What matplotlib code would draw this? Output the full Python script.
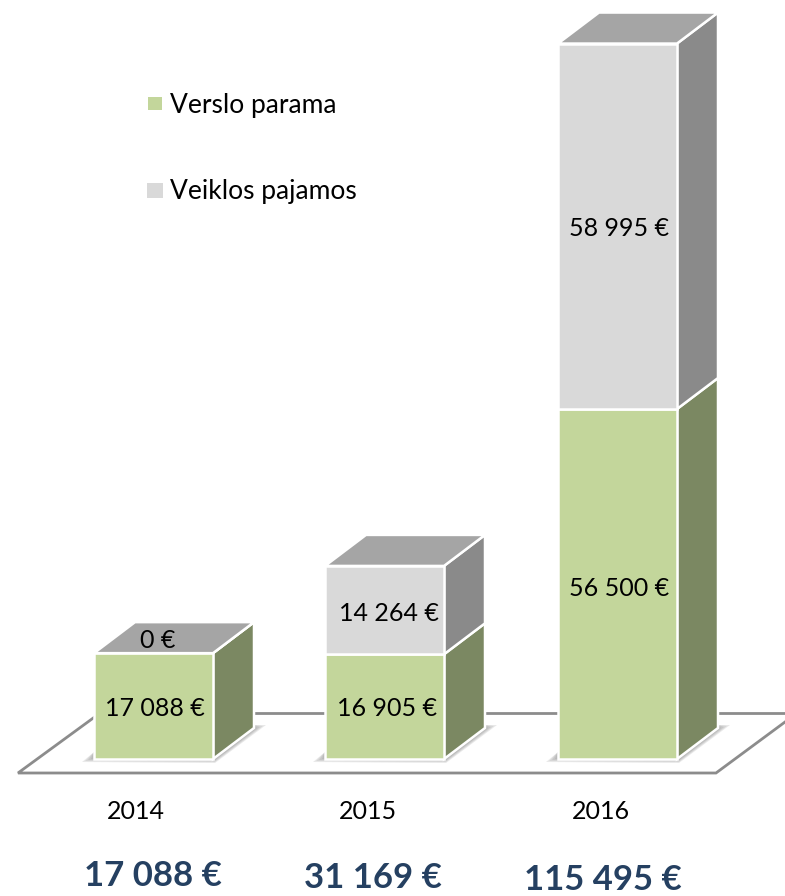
import numpy as np
import matplotlib
matplotlib.use('Agg')
import matplotlib.pyplot as plt
from matplotlib.patches import Polygon

plt.rcParams['font.family'] = ['Lato', 'DejaVu Sans']

years = ['2014', '2015', '2016']
verslo_parama = [17088, 16905, 56500]
veiklos_pajamos = [0, 14264, 58995]
bar_labels_green = ['17 088 €', '16 905 €', '56 500 €']
bar_labels_grey = ['0 €', '14 264 €', '58 995 €']
totals = ['17 088 €', '31 169 €', '115 495 €']
legend_names = ['Verslo parama', 'Veiklos pajamos']

# layout, all in pixels of the 785x896 picture
scale = 350 / 56500  # px per euro
base_px = 759
bar_left = [94, 325, 558]
bar_w = 119
dx = 41
dy = 31

green = '#c3d69b'
green_side = '#7b8862'
grey = '#d9d9d9'
grey_side = '#8a8a8a'
top_col = '#a5a5a5'
line_col = '#8c8c8c'
total_col = '#254061'


def py(p):
    # picture row -> euro value on the y axis
    return (base_px - p) / scale


fig = plt.figure(figsize=(7.85, 8.96), dpi=100)
ax = fig.add_axes([0, 0, 1, 1])
ax.set_xlim(0, 785)
ax.set_ylim(py(896), py(0))
ax.axis('off')

depth = dy / scale

# floor
ax.plot([100, 785], [py(713), py(713)], color=line_col, lw=2, zorder=1)
ax.plot([96, 18, 716, 785], [py(716), py(773), py(773), py(722)], color=line_col, lw=2,
        zorder=1, solid_joinstyle='miter')


def draw_segment(x, y0, h, front, side, draw_top):
    x1 = x + bar_w
    ax.add_patch(Polygon([(x1, y0), (x1 + dx, y0 + depth), (x1 + dx, y0 + h + depth), (x1, y0 + h)],
                         fc=side, ec='white', lw=1.8, zorder=3))
    if h > 0:
        ax.add_patch(Polygon([(x, y0), (x1, y0), (x1, y0 + h), (x, y0 + h)],
                             fc=front, ec='white', lw=1.8, zorder=4))
    if draw_top:
        ax.add_patch(Polygon([(x, y0 + h), (x1, y0 + h), (x1 + dx, y0 + h + depth), (x + dx, y0 + h + depth)],
                             fc=top_col, ec='white', lw=1.8, zorder=4))


for i in range(3):
    x = bar_left[i]
    x1 = x + bar_w
    # soft shadow under the box
    for k in range(4):
        ax.add_patch(Polygon([(x - 12 + k * 3, py(762 - k)), (x1 + 2, py(763 - k)),
                              (x1 + dx + 12 - k * 3, py(725 + k)), (x1 + dx, py(725)), (x, py(752))],
                             fc='#707070', ec='none', alpha=0.15, zorder=2))
    draw_segment(x, 0, verslo_parama[i], green, green_side, False)
    draw_segment(x, verslo_parama[i], veiklos_pajamos[i], grey, grey_side, True)

# value labels
green_label_x = [155, 387, 619]
grey_label_x = [158, 389, 619]
grey_label_y = [641, 613, 228]
green_label_y = [708, 708, 588]
for i in range(3):
    ax.text(green_label_x[i], py(green_label_y[i]), bar_labels_green[i], ha='center', va='center',
            fontsize=18, color='black', zorder=6)
    ax.text(grey_label_x[i], py(grey_label_y[i]), bar_labels_grey[i], ha='center', va='center',
            fontsize=18, color='black', zorder=6)

# years and totals under the floor
year_x = [136, 368, 601]
total_x = [153, 373, 603]
total_y = [876, 878, 880]
for i in range(3):
    ax.text(year_x[i], py(811), years[i], ha='center', va='center', fontsize=18, color='black')
    ax.text(total_x[i], py(total_y[i]), totals[i], ha='center', va='center', fontsize=25,
            fontweight='bold', color=total_col)

# legend
ax.add_patch(Polygon([(148, py(97)), (162, py(97)), (162, py(110)), (148, py(110))], fc=green, ec='none'))
ax.add_patch(Polygon([(147, py(183)), (163, py(183)), (163, py(198)), (147, py(198))], fc=grey, ec='none'))
ax.text(170, py(106), legend_names[0], ha='left', va='center', fontsize=19, color='black')
ax.text(170, py(192), legend_names[1], ha='left', va='center', fontsize=19, color='black')

plt.savefig('out.png', dpi=100, facecolor='white')
